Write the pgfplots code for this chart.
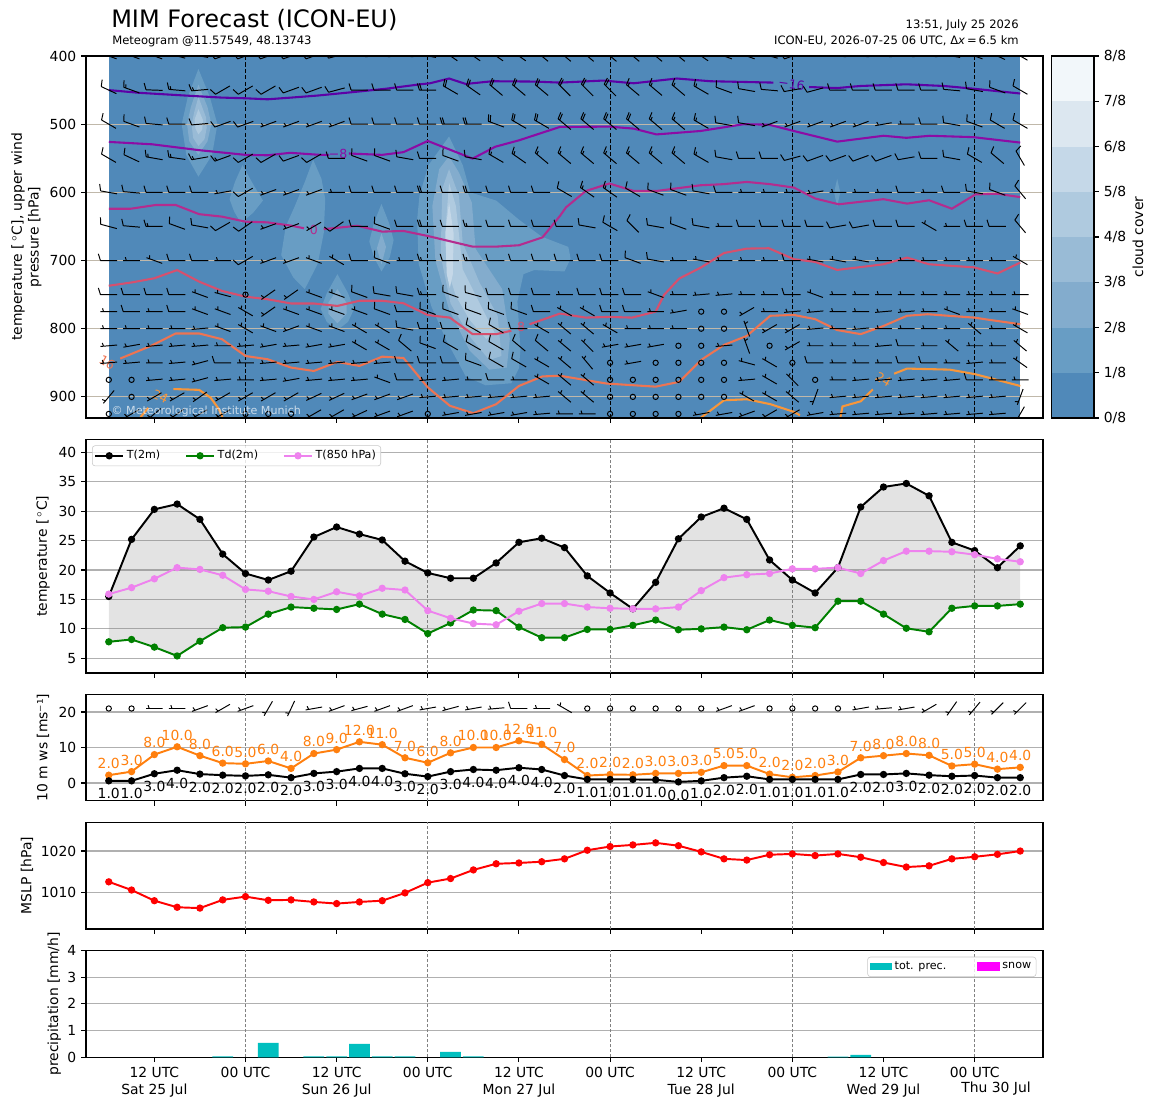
\documentclass[border=0pt]{standalone}
\usepackage{fontspec}
\setmainfont{DejaVu Sans}
\usepackage{pgfplots}
\usepackage{pgfplotstable}
\pgfplotsset{compat=1.18}

\definecolor{cc0}{RGB}{80,137,185}
\definecolor{cc1}{RGB}{104,157,196}
\definecolor{cc2}{RGB}{131,172,205}
\definecolor{cc3}{RGB}{153,187,214}
\definecolor{cc4}{RGB}{175,202,223}
\definecolor{cc5}{RGB}{197,216,232}
\definecolor{cc6}{RGB}{220,231,240}
\definecolor{cc7}{RGB}{242,247,250}
\definecolor{tm16}{RGB}{92,1,166}
\definecolor{tm8}{RGB}{140,12,165}
\definecolor{tz0}{RGB}{180,44,142}
\definecolor{tp8}{RGB}{214,80,110}
\definecolor{tp16}{RGB}{238,116,82}
\definecolor{tp24}{RGB}{248,150,58}
\definecolor{gridtan}{RGB}{192,184,170}
\definecolor{mplgrid}{RGB}{176,176,176}
\definecolor{C1}{RGB}{255,127,14}
\definecolor{mplgreen}{RGB}{0,128,0}
\definecolor{violetm}{RGB}{238,130,238}
\definecolor{cyanm}{RGB}{0,191,191}
\definecolor{magm}{RGB}{255,0,255}
\definecolor{redm}{RGB}{255,0,0}

\def\spd{0}\def\dir{0}
\pgfdeclareplotmark{barb}{%
  \pgfmathtruncatemacro\spdi{\spd}%
  \pgfsetlinewidth{0.7pt}%
  \ifnum\spdi=0
    \pgfpathcircle{\pgfpointorigin}{1.9pt}%
  \else
    \pgfpathmoveto{\pgfqpoint{-6pt}{0pt}}\pgfpathlineto{\pgfqpoint{6pt}{0pt}}%
    \ifnum\spdi=5
      \pgfpathmoveto{\pgfqpoint{3.75pt}{0pt}}\pgfpathlineto{\pgfqpoint{4.5pt}{-2.4pt}}%
    \fi
    \ifnum\spdi>9
      \pgfpathmoveto{\pgfqpoint{6pt}{0pt}}\pgfpathlineto{\pgfqpoint{7.5pt}{-4.8pt}}%
    \fi
    \ifnum\spdi=15
      \pgfpathmoveto{\pgfqpoint{4.5pt}{0pt}}\pgfpathlineto{\pgfqpoint{5.25pt}{-2.4pt}}%
    \fi
    \ifnum\spdi=20
      \pgfpathmoveto{\pgfqpoint{4.5pt}{0pt}}\pgfpathlineto{\pgfqpoint{6pt}{-4.8pt}}%
    \fi
  \fi
  \pgfusepathqstroke}

\pgfplotsset{
  mpl/.style={
    scale only axis, anchor=south west, width=689.04pt,
    xmin=3, xmax=129, xtick={12,24,...,120},
    tick align=outside, tick pos=left, major tick length=3.5pt,
    every tick/.style={black, line width=0.8pt},
    axis line style={line width=0.8pt},
    tick label style={font=\fontsize{10}{12}\selectfont},
    label style={font=\fontsize{10}{12}\selectfont},
    /pgf/number format/assume math mode=true,
    /pgf/number format/1000 sep={},
    major grid style={mplgrid, line width=0.8pt},
  },
  vl/.style={gray, line width=0.5pt, dash pattern=on 2.2pt off 1.4pt, forget plot},
  barbplot/.style={only marks, scatter, mark=barb, forget plot,
    visualization depends on={\thisrow{d}\as\dir},
    visualization depends on={\thisrow{s}\as\spd},
    scatter/use mapped color={draw=black,fill=black},
    scatter/@pre marker code/.append code={\pgftransformrotate{\dir}}},
  longleg/.style={legend image code/.code={\draw[mark repeat=2,mark phase=2,sharp corners,##1] plot coordinates {(0pt,0pt) (10pt,0pt) (20pt,0pt)};}},
}
\newcommand\vlines[2]{%
\addplot[vl] coordinates {(24,#1) (24,#2)};
\addplot[vl] coordinates {(48,#1) (48,#2)};
\addplot[vl] coordinates {(72,#1) (72,#2)};
\addplot[vl] coordinates {(96,#1) (96,#2)};
\addplot[vl] coordinates {(120,#1) (120,#2)};
}

\pgfplotstableread{
t T Td T850 P
6 15.5 7.8 15.9 1012.5
9 25.2 8.2 17.0 1010.5
12 30.3 6.9 18.5 1007.9
15 31.2 5.4 20.4 1006.3
18 28.6 7.9 20.1 1006.1
21 22.7 10.2 19.1 1008.1
24 19.4 10.3 16.7 1008.9
27 18.3 12.5 16.4 1008.0
30 19.8 13.7 15.5 1008.1
33 25.6 13.5 15.0 1007.6
36 27.3 13.3 16.3 1007.2
39 26.1 14.2 15.6 1007.6
42 25.1 12.5 16.9 1007.9
45 21.5 11.6 16.6 1009.8
48 19.5 9.2 13.1 1012.3
51 18.6 11.0 11.8 1013.3
54 18.6 13.2 10.9 1015.4
57 21.2 13.1 10.7 1016.9
60 24.7 10.3 13.0 1017.1
63 25.4 8.5 14.3 1017.4
66 23.8 8.5 14.3 1018.1
69 19.0 9.9 13.7 1020.2
72 16.1 9.9 13.5 1021.1
75 13.4 10.6 13.4 1021.5
78 17.9 11.5 13.4 1022.0
81 25.3 9.85 13.7 1021.3
84 29.0 10.0 16.5 1019.8
87 30.5 10.3 18.7 1018.1
90 28.6 9.85 19.2 1017.8
93 21.7 11.5 19.4 1019.1
96 18.3 10.6 20.2 1019.3
99 16.1 10.2 20.2 1018.9
102 20.4 14.7 20.4 1019.3
105 30.7 14.7 19.4 1018.5
108 34.1 12.5 21.6 1017.2
111 34.7 10.1 23.2 1016.1
114 32.6 9.5 23.2 1016.4
117 24.7 13.5 23.1 1018.1
120 23.3 13.9 22.6 1018.6
123 20.4 13.9 21.9 1019.2
126 24.1 14.2 21.4 1020.0
}\surf

\pgfplotstableread{
t g gl w wl
6 2.2 2.0 0.6 1.0
9 3.2 3.0 0.6 1.0
12 8.0 8.0 2.6 3.0
15 10.2 10.0 3.6 4.0
18 7.7 8.0 2.5 2.0
21 5.6 6.0 2.2 2.0
24 5.4 5.0 2.0 2.0
27 6.2 6.0 2.3 2.0
30 4.1 4.0 1.5 2.0
33 8.3 8.0 2.7 3.0
36 9.4 9.0 3.2 3.0
39 11.6 12.0 4.1 4.0
42 10.8 11.0 4.1 4.0
45 7.1 7.0 2.6 3.0
48 5.7 6.0 1.8 2.0
51 8.5 8.0 3.2 3.0
54 10.0 10.0 3.8 4.0
57 10.0 10.0 3.6 4.0
60 11.9 12.0 4.3 4.0
63 10.9 11.0 3.8 4.0
66 6.6 7.0 2.1 2.0
69 2.1 2.0 1.0 1.0
72 2.4 2.0 1.0 1.0
75 2.3 2.0 1.0 1.0
78 2.7 3.0 0.9 1.0
81 2.7 3.0 0.3 0.0
84 3.0 3.0 0.6 1.0
87 4.9 5.0 1.5 2.0
90 4.9 5.0 1.9 2.0
93 2.5 2.0 1.0 1.0
96 1.6 2.0 1.0 1.0
99 2.1 2.0 1.0 1.0
102 3.1 3.0 1.0 1.0
105 7.1 7.0 2.4 2.0
108 7.7 8.0 2.4 2.0
111 8.3 8.0 2.7 3.0
114 7.8 8.0 2.2 2.0
117 4.8 5.0 1.9 2.0
120 5.3 5.0 2.1 2.0
123 3.9 4.0 1.5 2.0
126 4.4 4.0 1.5 2.0
}\windtab

\pgfplotstableread{
t p d s
6 21 0 0
9 21 0 0
12 21 180 5
15 21 180 5
18 21 200 5
21 21 210 5
24 21 200 5
27 21 240 5
30 21 245 5
33 21 190 5
36 21 200 5
39 21 195 5
42 21 200 5
45 21 200 5
48 21 190 5
51 21 195 5
54 21 190 5
57 21 185 5
60 21 180 10
63 21 180 5
66 21 150 5
69 21 0 0
72 21 0 0
75 21 0 0
78 21 0 0
81 21 0 0
84 21 0 0
87 21 200 5
90 21 200 5
93 21 0 0
96 21 0 0
99 21 0 0
102 21 0 0
105 21 190 5
108 21 185 5
111 21 190 5
114 21 210 5
117 21 235 5
120 21 230 5
123 21 225 5
126 21 225 5
}\windbarbs

\pgfplotstableread{
t p d s
6 400 160 15
9 400 160 15
12 400 160 15
15 400 165 15
18 400 170 15
21 400 200 10
24 400 200 10
27 400 200 10
30 400 200 10
33 400 200 10
36 400 195 10
39 400 175 10
42 400 175 10
45 400 175 10
48 400 170 15
51 400 145 20
54 400 145 20
57 400 145 20
60 400 145 20
63 400 140 20
66 400 140 20
69 400 140 20
72 400 140 20
75 400 140 20
78 400 140 20
81 400 140 20
84 400 145 15
87 400 160 15
90 400 160 15
93 400 165 15
96 400 200 10
99 400 180 10
102 400 175 10
105 400 175 10
108 400 175 10
111 400 175 10
114 400 175 10
117 400 170 10
120 400 160 10
123 400 155 10
126 400 150 10
6 450 155 10
9 450 160 15
12 450 178 10
15 450 175 15
18 450 185 15
21 450 210 10
24 450 210 10
27 450 210 10
30 450 200 10
33 450 200 10
36 450 195 10
39 450 180 10
42 450 180 10
45 450 180 10
48 450 180 20
51 450 150 20
54 450 145 20
57 450 140 20
60 450 140 20
63 450 140 20
66 450 135 20
69 450 135 20
72 450 135 20
75 450 140 15
78 450 140 15
81 450 140 15
84 450 150 15
87 450 160 10
90 450 170 10
93 450 175 10
96 450 190 10
99 450 195 10
102 450 180 10
105 450 180 10
108 450 180 10
111 450 180 10
114 450 180 10
117 450 175 10
120 450 170 10
123 450 160 10
126 450 150 10
6 500 150 10
9 500 160 10
12 500 175 10
15 500 180 10
18 500 185 10
21 500 200 10
24 500 200 10
27 500 200 5
30 500 200 5
33 500 200 5
36 500 200 5
39 500 180 10
42 500 180 10
45 500 180 10
48 500 180 10
51 500 180 20
54 500 180 20
57 500 160 20
60 500 150 20
63 500 150 20
66 500 140 20
69 500 140 20
72 500 140 20
75 500 140 20
78 500 140 15
81 500 140 15
84 500 150 15
87 500 170 10
90 500 170 10
93 500 200 5
96 500 200 5
99 500 200 5
102 500 200 5
105 500 200 5
108 500 190 5
111 500 180 5
114 500 180 10
117 500 170 10
120 500 160 10
123 500 150 10
126 500 150 10
6 550 150 10
9 550 155 10
12 550 170 15
15 550 172 15
18 550 190 15
21 550 200 15
24 550 210 10
27 550 210 10
30 550 200 10
33 550 210 10
36 550 180 10
39 550 160 10
42 550 160 10
45 550 170 10
48 550 180 10
51 550 160 10
54 550 170 10
57 550 150 15
60 550 145 15
63 550 140 15
66 550 140 15
69 550 140 15
72 550 140 15
75 550 140 15
78 550 140 15
81 550 140 15
84 550 150 15
87 550 170 10
90 550 180 10
93 550 180 10
96 550 195 10
99 550 200 10
102 550 200 10
105 550 200 10
108 550 200 10
111 550 190 10
114 550 180 10
117 550 170 10
120 550 150 10
123 550 140 10
126 550 120 10
6 600 170 10
9 600 175 10
12 600 180 10
15 600 180 10
18 600 180 10
21 600 190 5
24 600 210 10
27 600 200 5
30 600 200 5
33 600 200 5
36 600 180 5
39 600 180 10
42 600 180 10
45 600 180 10
48 600 180 20
51 600 180 10
54 600 180 20
57 600 180 10
60 600 180 10
63 600 180 10
66 600 150 10
69 600 145 15
72 600 145 15
75 600 150 10
78 600 160 10
81 600 160 10
84 600 170 10
87 600 180 10
90 600 180 5
93 600 180 5
96 600 180 5
99 600 190 5
102 600 180 5
105 600 180 5
108 600 180 5
111 600 180 10
114 600 180 5
117 600 180 10
120 600 170 10
123 600 160 10
126 600 130 10
6 650 165 10
9 650 175 10
12 650 180 15
15 650 160 10
18 650 170 10
21 650 210 10
24 650 215 10
27 650 200 5
30 650 200 5
33 650 210 5
36 650 215 10
39 650 180 10
42 650 160 10
45 650 180 10
48 650 180 20
51 650 180 10
54 650 180 15
57 650 180 10
60 650 180 10
63 650 180 10
66 650 180 10
69 650 170 10
72 650 150 10
75 650 135 10
78 650 170 10
81 650 160 10
84 650 170 10
87 650 180 5
90 650 180 10
93 650 180 10
96 650 180 10
99 650 180 10
102 650 190 10
105 650 190 10
108 650 180 10
111 650 180 10
114 650 150 5
117 650 180 5
120 650 180 10
123 650 180 10
126 650 130 10
6 700 180 10
9 700 180 5
12 700 160 5
15 700 180 10
18 700 180 10
21 700 180 5
24 700 210 10
27 700 200 5
30 700 200 5
33 700 160 5
36 700 150 5
39 700 180 10
42 700 160 10
45 700 180 5
48 700 180 15
51 700 180 10
54 700 180 15
57 700 180 10
60 700 180 10
63 700 180 10
66 700 180 10
69 700 180 10
72 700 180 10
75 700 160 10
78 700 170 10
81 700 180 5
84 700 170 5
87 700 180 5
90 700 180 5
93 700 180 5
96 700 180 10
99 700 170 5
102 700 170 5
105 700 170 5
108 700 180 5
111 700 180 5
114 700 180 5
117 700 180 5
120 700 180 5
123 700 180 5
126 700 150 5
6 750 180 10
9 750 180 10
12 750 180 10
15 750 180 10
18 750 160 5
21 750 165 5
24 750 0 0
27 750 215 5
30 750 215 5
33 750 160 5
36 750 160 5
39 750 160 10
42 750 170 10
45 750 170 10
48 750 180 15
51 750 160 10
54 750 165 10
57 750 180 10
60 750 180 10
63 750 180 10
66 750 180 5
69 750 180 10
72 750 180 10
75 750 180 10
78 750 160 5
81 750 180 5
84 750 185 5
87 750 185 5
90 750 180 5
93 750 180 5
96 750 180 10
99 750 160 5
102 750 180 5
105 750 180 5
108 750 180 5
111 750 180 5
114 750 180 5
117 750 180 5
120 750 180 5
123 750 180 5
126 750 180 5
6 775 180 5
9 775 180 10
12 775 180 5
15 775 180 10
18 775 160 5
21 775 160 5
24 775 150 5
27 775 215 5
30 775 160 5
33 775 160 5
36 775 160 5
39 775 160 5
42 775 160 10
45 775 180 10
48 775 160 10
51 775 160 10
54 775 160 10
57 775 160 10
60 775 160 10
63 775 180 10
66 775 150 5
69 775 150 5
72 775 180 10
75 775 180 10
78 775 180 5
81 775 190 5
84 775 0 0
87 775 0 0
90 775 210 5
93 775 180 5
96 775 185 5
99 775 185 5
102 775 180 5
105 775 180 5
108 775 185 5
111 775 185 5
114 775 180 5
117 775 160 5
120 775 180 5
123 775 180 5
126 775 160 5
6 800 180 5
9 800 180 5
12 800 180 5
15 800 180 5
18 800 185 5
21 800 160 5
24 800 150 5
27 800 160 5
30 800 200 5
33 800 160 5
36 800 160 5
39 800 150 5
42 800 150 5
45 800 170 10
48 800 180 10
51 800 180 10
54 800 150 10
57 800 150 10
60 800 180 10
63 800 150 5
66 800 140 5
69 800 140 5
72 800 150 5
75 800 180 5
78 800 180 5
81 800 180 5
84 800 0 0
87 800 0 0
90 800 110 5
93 800 210 5
96 800 210 5
99 800 185 5
102 800 180 5
105 800 185 5
108 800 180 5
111 800 180 5
114 800 180 5
117 800 180 5
120 800 140 5
123 800 180 5
126 800 150 5
6 825 185 5
9 825 190 5
12 825 185 5
15 825 185 5
18 825 185 5
21 825 180 5
24 825 185 5
27 825 190 5
30 825 185 5
33 825 190 5
36 825 190 5
39 825 150 5
42 825 150 5
45 825 140 10
48 825 160 10
51 825 150 10
54 825 150 10
57 825 150 10
60 825 140 10
63 825 140 10
66 825 140 5
69 825 135 5
72 825 190 5
75 825 190 5
78 825 190 5
81 825 0 0
84 825 0 0
87 825 185 5
90 825 110 5
93 825 0 0
96 825 210 5
99 825 180 5
102 825 180 5
105 825 180 5
108 825 185 5
111 825 180 10
114 825 180 5
117 825 140 5
120 825 180 5
123 825 180 5
126 825 140 5
6 850 185 5
9 850 185 5
12 850 180 5
15 850 185 5
18 850 195 5
21 850 180 10
24 850 180 5
27 850 185 5
30 850 185 5
33 850 185 5
36 850 185 5
39 850 185 5
42 850 185 5
45 850 180 10
48 850 180 10
51 850 180 10
54 850 160 10
57 850 150 10
60 850 150 10
63 850 150 5
66 850 140 5
69 850 130 5
72 850 0 0
75 850 190 5
78 850 0 0
81 850 0 0
84 850 0 0
87 850 0 0
90 850 165 5
93 850 150 5
96 850 0 0
99 850 180 10
102 850 180 5
105 850 180 5
108 850 180 5
111 850 180 10
114 850 180 10
117 850 180 5
120 850 185 5
123 850 180 5
126 850 145 5
6 875 0 0
9 875 0 0
12 875 185 5
15 875 185 5
18 875 195 5
21 875 185 5
24 875 180 5
27 875 185 5
30 875 190 5
33 875 185 5
36 875 185 5
39 875 185 5
42 875 160 5
45 875 180 10
48 875 185 5
51 875 185 5
54 875 180 5
57 875 180 10
60 875 180 5
63 875 150 5
66 875 140 5
69 875 140 5
72 875 0 0
75 875 0 0
78 875 0 0
81 875 0 0
84 875 0 0
87 875 0 0
90 875 185 5
93 875 150 5
96 875 135 5
99 875 0 0
102 875 180 5
105 875 185 5
108 875 185 5
111 875 185 5
114 875 185 5
117 875 185 5
120 875 180 10
123 875 180 5
126 875 180 5
6 900 230 5
9 900 0 0
12 900 210 5
15 900 210 5
18 900 215 5
21 900 210 5
24 900 210 5
27 900 210 5
30 900 210 5
33 900 205 5
36 900 205 5
39 900 200 5
42 900 200 5
45 900 200 5
48 900 185 5
51 900 185 5
54 900 185 5
57 900 185 5
60 900 185 5
63 900 185 5
66 900 140 5
69 900 140 5
72 900 0 0
75 900 0 0
78 900 0 0
81 900 0 0
84 900 0 0
87 900 0 0
90 900 150 5
93 900 150 5
96 900 140 5
99 900 250 5
102 900 185 5
105 900 185 5
108 900 185 5
111 900 185 5
114 900 185 5
117 900 185 5
120 900 185 5
123 900 185 5
126 900 250 5
6 925 0 0
9 925 210 5
12 925 220 5
15 925 215 5
18 925 210 5
21 925 210 5
24 925 0 0
27 925 0 0
30 925 0 0
33 925 210 5
36 925 210 5
39 925 205 5
42 925 200 5
45 925 200 5
48 925 0 0
51 925 190 5
54 925 190 5
57 925 190 5
60 925 190 5
63 925 185 5
66 925 180 5
69 925 180 5
72 925 0 0
75 925 0 0
78 925 0 0
81 925 0 0
84 925 190 5
87 925 190 5
90 925 200 5
93 925 210 5
96 925 210 5
99 925 190 5
102 925 185 5
105 925 185 5
108 925 185 5
111 925 185 5
114 925 185 5
117 925 185 5
120 925 185 5
123 925 185 5
126 925 240 5
}\barbs

\begin{document}
\begin{tikzpicture}
\path[use as bounding box] (0pt,0pt) rectangle (831.6pt,-795.6pt);

% ---------------- top panel ----------------
\begin{axis}[mpl, at={(61.92pt,-300.96pt)}, height=260.64pt,
  ymin=400, ymax=931, y dir=reverse, ytick={400,500,...,900},
  xticklabels={}, axis on top, clip marker paths=true,
  ylabel={temperature [\,$^\circ$C], upper wind\\pressure [hPa]},
  ylabel style={align=center, at={(axis description cs:-0.0622,0.5)}, anchor=center}]
\addplot[fill=cc0, draw=none] coordinates {(6,400) (126,400) (126,931) (6,931)};
% cloud patches
\addplot[fill=cc1, draw=none] coordinates {(17.8,419) (19.3,460) (20.3,500) (19.6,545) (17.8,577) (16.2,545) (15.6,500) (16.4,460)};
\addplot[fill=cc2, draw=none] coordinates {(17.8,442) (19.0,475) (19.5,500) (19.0,525) (17.8,545) (16.6,525) (16.3,500) (16.8,475)};
\addplot[fill=cc3, draw=none] coordinates {(17.8,460) (18.8,490) (18.9,505) (18.6,522) (17.8,532) (17.1,520) (16.9,500) (17.3,480)};
\addplot[fill=cc4, draw=none] coordinates {(17.8,478) (18.4,494) (18.3,508) (17.8,515) (17.4,506) (17.3,493)};
\addplot[fill=cc1, draw=none] coordinates {(23.6,560) (25.1,590) (26.3,612) (25,630) (23.4,645) (22.5,628) (21.9,610) (22.6,585)};
\addplot[fill=cc1, draw=none] coordinates {(32.9,552) (34.0,580) (34.5,610) (34.3,660) (33.5,705) (31.8,742) (30.3,725) (28.7,692) (29.3,650) (30.5,620) (31.8,585)};
\addplot[fill=cc1, draw=none] coordinates {(41.9,617) (42.9,645) (43.5,670) (43.0,695) (41.9,716) (40.9,695) (40.3,672) (40.9,645)};
\addplot[fill=cc2, draw=none] coordinates {(41.9,660) (42.5,680) (41.9,706) (41.3,682)};
\addplot[fill=cc1, draw=none] coordinates {(36.1,720) (37.5,748) (38.3,771) (37.5,790) (36.1,802) (34.7,790) (33.9,771) (34.7,748)};
\addplot[fill=cc2, draw=none] coordinates {(36.1,742) (37.3,762) (37.3,778) (36.1,792) (34.9,778) (34.9,762)};
\addplot[fill=cc1, draw=none] coordinates {(50.8,518) (52.6,560) (53.6,600) (57,612) (60,640) (63,665) (66.5,680) (66.8,697) (66,716) (62,714) (60.6,720) (59.8,760) (60.2,830) (60.0,858) (59.0,880) (55.6,883) (53.0,870) (50.4,816) (48.5,768) (46.8,705) (46.6,640) (46.9,605) (48.1,560)};
\addplot[fill=cc2, draw=none] coordinates {(50.8,547) (52.1,571) (53.8,615) (54.3,683) (57.8,742) (58.8,815) (58.4,857) (56.1,860) (53.5,832) (50.8,772) (49.0,700) (48.6,620) (49.5,566)};
\addplot[fill=cc3, draw=none] coordinates {(50.8,566) (52.1,605) (52.6,674) (54.8,732) (57.2,781) (57.7,840) (56.1,846) (53.5,811) (51.0,763) (49.7,693) (49.9,595)};
\addplot[fill=cc4, draw=none] coordinates {(50.8,586) (51.7,620) (52.6,713) (55.2,771) (56.8,806) (55.7,815) (53.5,787) (51.7,752) (50.6,713) (50.4,644)};
\addplot[fill=cc5, draw=none] coordinates {(50.8,615) (51.4,660) (51.3,720) (50.9,740) (50.5,720) (50.3,660)};
\addplot[fill=cc1, draw=none] coordinates {(101.9,580) (102.3,600) (101.9,621) (101.5,600)};
% 00 UTC lines
\addplot[black, line width=0.8pt, dash pattern=on 3pt off 1.6pt] coordinates {(24,400) (24,931)};
\addplot[black, line width=0.8pt, dash pattern=on 3pt off 1.6pt] coordinates {(48,400) (48,931)};
\addplot[black, line width=0.8pt, dash pattern=on 3pt off 1.6pt] coordinates {(72,400) (72,931)};
\addplot[black, line width=0.8pt, dash pattern=on 3pt off 1.6pt] coordinates {(96,400) (96,931)};
\addplot[black, line width=0.8pt, dash pattern=on 3pt off 1.6pt] coordinates {(120,400) (120,931)};
% horizontal grid
\addplot[gridtan, line width=0.8pt] coordinates {(3,500) (129,500)};
\addplot[gridtan, line width=0.8pt] coordinates {(3,600) (129,600)};
\addplot[gridtan, line width=0.8pt] coordinates {(3,700) (129,700)};
\addplot[gridtan, line width=0.8pt] coordinates {(3,800) (129,800)};
\addplot[gridtan, line width=0.8pt] coordinates {(3,900) (129,900)};
% isotherms
\addplot[tm16, line width=1.5pt] coordinates {(6,450) (10,454) (16.1,458) (20.9,461) (24,462) (26.9,463.5) (30,461) (33.5,458) (38.1,453) (42.5,448) (47,441.5) (48.3,440) (50.8,433) (53,441) (56.5,437) (62,437.5) (65.4,439) (71.1,436) (75.1,440) (80.8,433) (85.2,437) (93.5,439)};
\addplot[tm16, line width=1.5pt] coordinates {(98.2,445.5) (101.9,447) (104.9,444) (111,441.5) (116,444) (119.9,448) (126,455)};
\addplot[tm8, line width=1.5pt] coordinates {(6,526) (11.7,529.5) (17.8,538) (24,545) (26.9,545.6) (29.9,542) (33.8,545) (35,545)};
\addplot[tm8, line width=1.5pt] coordinates {(37.6,543) (42,545) (44.8,541) (48,524.6) (53.9,550.5) (56.9,533) (60,523.7) (65.4,504) (71.9,503.6) (75.1,506.5) (78.1,515) (83.9,510) (89.6,500) (92.9,500.7) (96.2,510) (101.9,525.6) (108,517) (111,520) (114.1,517) (119.8,519) (126,527)};
\addplot[tz0, line width=1.5pt] coordinates {(6,624) (8.9,624) (12.2,618.5) (14.8,618.5) (17.9,632) (20.9,635.6) (24,643) (26.9,644) (30.1,649) (31.7,652.7)};
\addplot[tz0, line width=1.5pt] coordinates {(34.3,654) (38.7,649) (42,657.6) (44.8,656.6) (48,664) (53.9,679.6) (57,679.6) (60,677.6) (63.1,666) (65.4,634.6) (66.2,622) (68.8,598) (71.9,587) (75.1,598) (78.1,598) (83.9,589.6) (86.9,588) (90,584.7) (93.1,588) (96.2,593) (99,609) (102.1,617.5) (108,610) (111.1,616.5) (114,611.6) (117,624) (120.1,603) (123,602) (126,607)};
\addplot[tp8, line width=1.5pt] coordinates {(6,737) (9.1,732) (12,726) (15,714) (17.9,731) (20.9,744.6) (24,753) (26.9,756.8) (30,763) (33,763) (36.1,766.6) (39,759) (42,759) (44.8,762.7) (48,780) (50.9,783.7) (53.9,808) (57,808) (59,803)};
\addplot[tp8, line width=1.5pt] coordinates {(61.4,793.5) (65.4,777.8) (68.8,783.7) (71.9,782.7) (74.9,783.7) (78,775) (79.1,750.5) (81.1,726.5) (84,710) (87,689) (90,682.5) (92.9,682) (96.2,698) (99,702) (101.9,713.8) (108,705.5) (111.1,695.7) (114,705.5) (119.9,710) (123,719) (126,703)};
\addplot[tp16, line width=1.5pt] coordinates {(7.5,843.8) (11.6,825) (14.8,807) (17.9,807) (20.9,815.4) (24,840) (26.9,844.8) (30,857) (33,862) (36.1,848.7) (39,854.6) (42,841) (44.8,843) (48,886) (50.9,913) (54,924) (57,910.7) (60,884) (63.1,870) (65.4,869) (71.5,880.4) (78,885) (81.1,878) (84,845.7) (87,823.8) (90,810.6) (93.1,781) (96.2,779.8) (99,786) (101.9,802) (105,808) (108,796) (111.1,781) (113.8,778.8) (119.9,783.7) (126,793.5)};
\addplot[tp24, line width=1.5pt] coordinates {(10.1,931) (11.2,916)};
\addplot[tp24, line width=1.5pt] coordinates {(14.5,888.5) (17.9,889.7) (19.4,901) (20.5,918) (21.0,931)};
\addplot[tp24, line width=1.5pt] coordinates {(83.9,931) (87,905) (90,903.5) (93.1,910.7) (96.2,922) (97,927)};
\addplot[tp24, line width=1.5pt] coordinates {(102.3,931) (102.6,914) (105,906.5) (106.6,889)};
\addplot[tp24, line width=1.5pt] coordinates {(109.4,866) (111.1,858.5) (116.7,860) (120.1,866.8) (126,884)};
\node[text=tm16, font=\fontsize{9}{10}\selectfont, rotate=-8] at (axis cs:95.9,441) {−16};
\node[text=tm8, font=\fontsize{9}{10}\selectfont] at (axis cs:36.2,544) {−8};
\node[text=tz0, font=\fontsize{9}{10}\selectfont] at (axis cs:33,655) {0};
\node[text=tp8, font=\fontsize{9}{10}\selectfont] at (axis cs:60.3,798) {8};
\node[text=tp16, font=\fontsize{9}{10}\selectfont, rotate=-30] at (axis cs:5.8,849) {16};
\node[text=tp24, font=\fontsize{9}{10}\selectfont, rotate=-25] at (axis cs:12.8,899) {24};
\node[text=tp24, font=\fontsize{9}{10}\selectfont, rotate=-30] at (axis cs:108,874) {24};
% barbs
\addplot[barbplot] table[x=t, y=p] {\barbs};
\node[anchor=base west, text=white, text opacity=0.7, inner sep=0pt, font=\fontsize{8}{9.6}\selectfont] at (axis cs:6.33,926.4) {© Meteorological Institute Munich};
\end{axis}

% ---------------- colorbar ----------------
\begin{axis}[scale only axis, anchor=south west, at={(757.22pt,-300.96pt)}, width=30.46pt, height=260.64pt,
  xmin=0, xmax=1, ymin=0, ymax=8, xtick=\empty, ytick={0,...,8},
  yticklabels={0/8,1/8,2/8,3/8,4/8,5/8,6/8,7/8,8/8},
  ytick pos=right, yticklabel pos=right, tick align=outside, major tick length=3.5pt,
  every tick/.style={black, line width=0.8pt}, axis line style={line width=0.8pt},
  tick label style={font=\fontsize{10}{12}\selectfont}, axis on top,
  ylabel={cloud cover}, label style={font=\fontsize{10}{12}\selectfont},
  ylabel style={at={(axis description cs:2.04,0.5)}, anchor=center}]
\addplot[fill=cc0, draw=none] coordinates {(0,0) (1,0) (1,1) (0,1)};
\addplot[fill=cc1, draw=none] coordinates {(0,1) (1,1) (1,2) (0,2)};
\addplot[fill=cc2, draw=none] coordinates {(0,2) (1,2) (1,3) (0,3)};
\addplot[fill=cc3, draw=none] coordinates {(0,3) (1,3) (1,4) (0,4)};
\addplot[fill=cc4, draw=none] coordinates {(0,4) (1,4) (1,5) (0,5)};
\addplot[fill=cc5, draw=none] coordinates {(0,5) (1,5) (1,6) (0,6)};
\addplot[fill=cc6, draw=none] coordinates {(0,6) (1,6) (1,7) (0,7)};
\addplot[fill=cc7, draw=none] coordinates {(0,7) (1,7) (1,8) (0,8)};
\end{axis}

% ---------------- temperature ----------------
\begin{axis}[mpl, at={(61.92pt,-484.56pt)}, height=168.26pt,
  ymin=2.5, ymax=42.2, ytick={5,10,...,40}, ymajorgrids, xticklabels={},
  ylabel={temperature [\,$^\circ$C]},
  ylabel style={at={(axis description cs:-0.0449,0.5)}, anchor=center},
  legend columns=3,
  legend style={at={(0.0063,0.974)}, anchor=north west, draw=mplgrid!70, rounded corners=2pt,
    fill=white, fill opacity=0.8, text opacity=1, draw opacity=1, font=\fontsize{8}{9.6}\selectfont,
    inner sep=1.5pt, /tikz/every even column/.append style={column sep=16pt}}]
\addplot[fill=gray, fill opacity=0.22, draw=none, forget plot] coordinates {(6,15.5) (9,25.2) (12,30.3) (15,31.2) (18,28.6) (21,22.7) (24,19.4) (27,18.3) (30,19.8) (33,25.6) (36,27.3) (39,26.1) (42,25.1) (45,21.5) (48,19.5) (51,18.6) (54,18.6) (57,21.2) (60,24.7) (63,25.4) (66,23.8) (69,19.0) (72,16.1) (75,13.4) (78,17.9) (81,25.3) (84,29.0) (87,30.5) (90,28.6) (93,21.7) (96,18.3) (99,16.1) (102,20.4) (105,30.7) (108,34.1) (111,34.7) (114,32.6) (117,24.7) (120,23.3) (123,20.4) (126,24.1) (126,14.2) (123,13.9) (120,13.9) (117,13.5) (114,9.5) (111,10.1) (108,12.5) (105,14.7) (102,14.7) (99,10.2) (96,10.6) (93,11.5) (90,9.85) (87,10.3) (84,10.0) (81,9.85) (78,11.5) (75,10.6) (72,9.9) (69,9.9) (66,8.5) (63,8.5) (60,10.3) (57,13.1) (54,13.2) (51,11.0) (48,9.2) (45,11.6) (42,12.5) (39,14.2) (36,13.3) (33,13.5) (30,13.7) (27,12.5) (24,10.3) (21,10.2) (18,7.9) (15,5.4) (12,6.9) (9,8.2) (6,7.8)};
\vlines{2.5}{42.2}
\addplot[black, line width=1.4pt, mark=*, mark size=1.9pt, longleg] table[x=t, y=T] {\surf};
\addlegendentry{T(2m)}
\addplot[mplgreen, line width=1.4pt, mark=*, mark size=1.9pt, longleg] table[x=t, y=Td] {\surf};
\addlegendentry{Td(2m)}
\addplot[violetm, line width=1.4pt, mark=*, mark size=1.9pt, longleg] table[x=t, y=T850] {\surf};
\addlegendentry{T(850 hPa)}
\end{axis}

% ---------------- wind ----------------
\begin{axis}[mpl, at={(61.92pt,-576.5pt)}, height=76.61pt,
  ymin=-5, ymax=25, ytick={0,10,20}, ymajorgrids, xticklabels={},
  ylabel={10 m ws [ms⁻¹]},
  ylabel style={at={(axis description cs:-0.0449,0.5)}, anchor=center}]
\vlines{-5}{25}
\addplot[barbplot] table[x=t, y=p] {\windbarbs};
\addplot[C1, line width=1.4pt, mark=*, mark size=1.9pt, nodes near coords, point meta=explicit symbolic,
  every node near coord/.style={font=\fontsize{10}{12}\selectfont, text=C1, anchor=center, inner sep=0pt, yshift=8.4pt}]
  table[x=t, y=g, meta=gl] {\windtab};
\addplot[black, line width=1.4pt, mark=*, mark size=1.9pt, nodes near coords, point meta=explicit symbolic,
  every node near coord/.style={font=\fontsize{10}{12}\selectfont, text=black, anchor=center, inner sep=0pt, yshift=-9.4pt}]
  table[x=t, y=w, meta=wl] {\windtab};
\end{axis}

% ---------------- MSLP ----------------
\begin{axis}[mpl, at={(61.92pt,-668.88pt)}, height=76.82pt,
  ymin=1001, ymax=1027, ytick={1010,1020}, ymajorgrids, xticklabels={},
  ylabel={MSLP [hPa]},
  ylabel style={at={(axis description cs:-0.0617,0.5)}, anchor=center}]
\vlines{1001}{1027}
\addplot[redm, line width=1.4pt, mark=*, mark size=1.9pt] table[x=t, y=P] {\surf};
\end{axis}

% ---------------- precipitation ----------------
\begin{axis}[mpl, at={(61.92pt,-761.26pt)}, height=77.04pt,
  ymin=0, ymax=4, ytick={0,1,2,3,4}, ymajorgrids,
  xticklabels={12 UTC\\Sat 25 Jul, 00 UTC, 12 UTC\\Sun 26 Jul, 00 UTC, 12 UTC\\Mon 27 Jul, 00 UTC, 12 UTC\\Tue 28 Jul, 00 UTC, 12 UTC\\Wed 29 Jul, 00 UTC},
  xticklabel style={align=center},
  ylabel={precipitation [mm/h]},
  ylabel style={at={(axis description cs:-0.033,0.5)}, anchor=center},
  legend columns=2,
  legend style={at={(0.993,0.94)}, anchor=north east, draw=mplgrid!70, rounded corners=2pt,
    fill=white, fill opacity=0.8, text opacity=1, draw opacity=1, font=\fontsize{8}{9.6}\selectfont,
    inner sep=1.5pt, /tikz/every even column/.append style={column sep=20pt}}]
\vlines{0}{4}
\addplot[ybar, bar width=2.73, bar shift=0pt, fill=cyanm, draw=none,
  legend image code/.code={\fill[cyanm, fill opacity=1, sharp corners] (0pt,-2.6pt) rectangle (16pt,3pt);}]
  coordinates {(21,0.04) (27,0.54) (33,0.04) (36,0.04) (39,0.50) (42,0.04) (45,0.04) (51,0.20) (54,0.04) (102,0.03) (105,0.09)};
\addlegendentry{tot. prec.}
\addlegendimage{legend image code/.code={\fill[magm, fill opacity=1, sharp corners] (0pt,-2.6pt) rectangle (16pt,3pt);}}
\addlegendentry{snow}
\end{axis}

% ---------------- texts ----------------
\node[anchor=base west, inner sep=0pt, font=\fontsize{17.28}{20}\selectfont] at (79.92pt,-19.8pt) {MIM Forecast (ICON-EU)};
\node[anchor=base west, inner sep=0pt, font=\fontsize{8.33}{10}\selectfont] at (80.64pt,-31.9pt) {Meteogram @11.57549, 48.13743};
\node[anchor=base east, inner sep=0pt, font=\fontsize{8.33}{10}\selectfont] at (733.68pt,-20.16pt) {13:51, July 25 2026};
\node[anchor=base east, inner sep=0pt, font=\fontsize{8.33}{10}\selectfont] at (733.68pt,-31.9pt) {ICON-EU, 2026-07-25 06 UTC, Δ\textit{x}\,=\,6.5 km};
\node[anchor=base, inner sep=0pt, font=\fontsize{10}{12}\selectfont] at (717.12pt,-786.24pt) {Thu 30 Jul};
\end{tikzpicture}
\end{document}
